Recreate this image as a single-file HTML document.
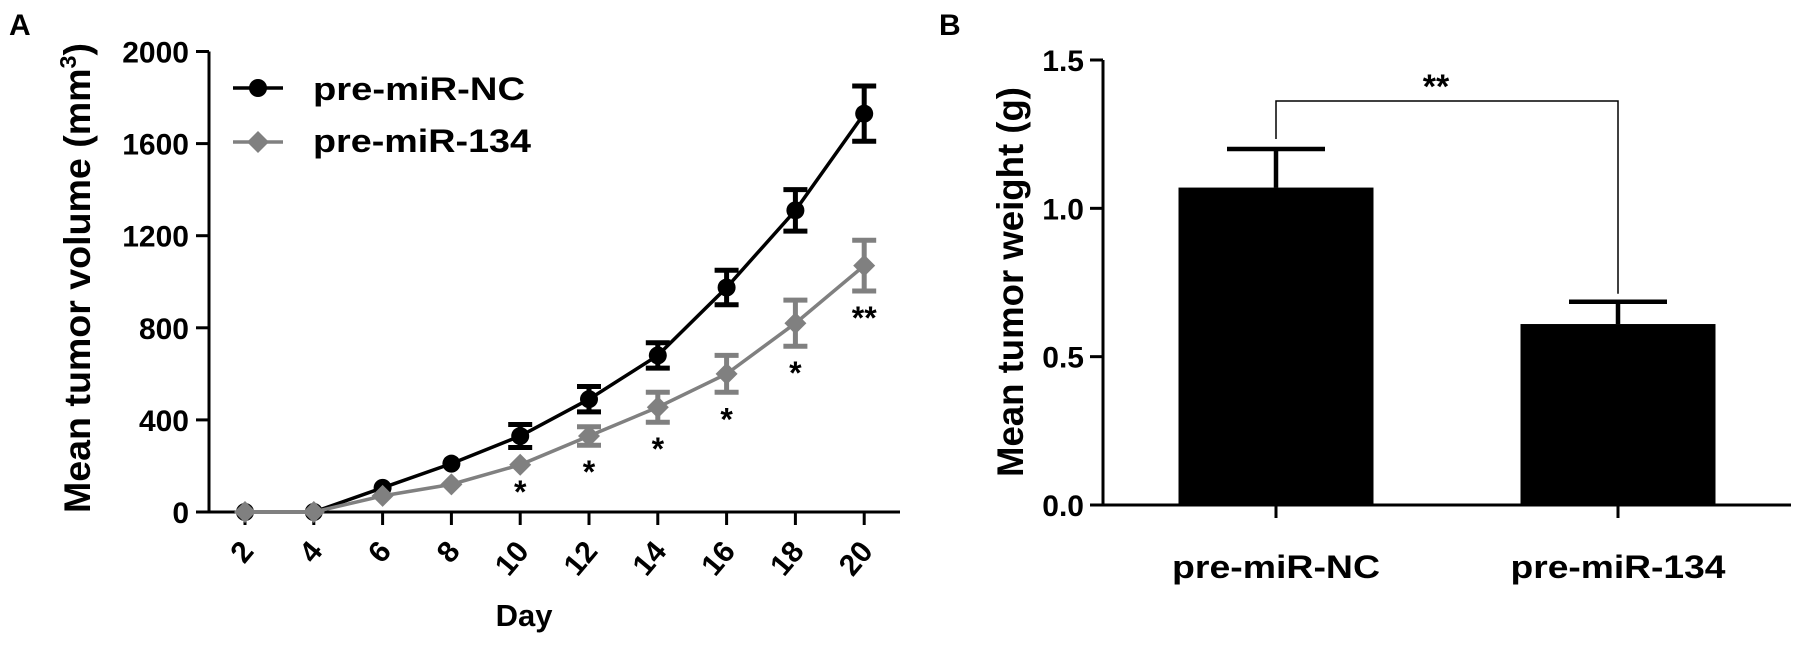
<!DOCTYPE html>
<html><head><meta charset="utf-8"><style>
body{margin:0;background:#fff}
svg{display:block;font-family:"Liberation Sans",Arial,sans-serif;font-weight:bold}
</style></head><body>
<svg id="s" width="1795" height="659" viewBox="0 0 1795 659">
<text x="9" y="35" font-size="30">A</text>
<text x="939" y="35" font-size="30">B</text>
<g id="A"></g>
<g id="B"></g>
</svg>
<script>
const days=[2,4,6,8,10,12,14,16,18,20];
const ncMean=[0,0,105,210,330,490,680,975,1310,1730];
const ncErr=[0,0,0,0,50,55,55,75,90,120];
const m134Mean=[0,0,70,120,205,330,455,600,820,1070];
const m134Err=[0,0,0,0,0,40,65,80,100,110];
const sigA=["","","","","*","*","*","*","*","**"];
const yTicksA=[0,400,800,1200,1600,2000];
const groups=["pre-miR-NC","pre-miR-134"];
const weights=[1.07,0.61];
const weightErr=[0.13,0.075];
const yTicksB=[0.0,0.5,1.0,1.5];
const NS="http://www.w3.org/2000/svg";
function mk(p,t,a){const e=document.createElementNS(NS,t);for(const k in a)e.setAttribute(k,a[k]);p.appendChild(e);return e;}
const A=document.getElementById('A'),B=document.getElementById('B');
// Panel A
const xA=d=>245+(d-2)/2*68.8, yA=v=>512-v/2000*460.5;
let e=mk(A,'path',{d:`M209,${yA(2000)}V512H900`,stroke:'#000','stroke-width':3,fill:'none'});

yTicksA.forEach(t=>{mk(A,'line',{x1:196,x2:209,y1:yA(t),y2:yA(t),stroke:'#000','stroke-width':3});
 e=mk(A,'text',{x:189,y:yA(t)+11,'font-size':30,'text-anchor':'end'});e.textContent=t;
 });
days.forEach(d=>{mk(A,'line',{x1:xA(d),x2:xA(d),y1:512,y2:525,stroke:'#000','stroke-width':3});
 e=mk(A,'text',{x:xA(d)+10,y:552,'font-size':30,'text-anchor':'end',transform:`rotate(-50 ${xA(d)+10} 552)`});e.textContent=d;
 });
e=mk(A,'text',{x:524,y:626,'font-size':31,'text-anchor':'middle'});e.textContent='Day';

e=mk(A,'text',{x:0,y:0,'font-size':37,'text-anchor':'middle',textLength:470,lengthAdjust:'spacingAndGlyphs',transform:'translate(90,278) rotate(-90)'});
e.innerHTML='Mean tumor volume (mm<tspan font-size="23" dy="-14">3</tspan><tspan dy="14">)</tspan>';

function series(mean,err,col,shape,name){
 const g=mk(A,'g',{});
 mk(g,'polyline',{points:days.map((d,i)=>xA(d)+','+yA(mean[i])).join(' '),stroke:col,'stroke-width':3.5,fill:'none'});
 days.forEach((d,i)=>{const x=xA(d),y=yA(mean[i]);
  if(err[i]>0){const y1=yA(mean[i]+err[i]),y2=yA(mean[i]-err[i]);
   mk(g,'path',{d:`M${x},${y1}V${y2}M${x-12},${y1}H${x+12}M${x-12},${y2}H${x+12}`,stroke:col,'stroke-width':5,fill:'none'});}
  if(shape==='c')mk(g,'circle',{cx:x,cy:y,r:9,fill:col});
  else mk(g,'path',{d:`M${x},${y-11}L${x+11},${y}L${x},${y+11}L${x-11},${y}Z`,fill:col});});
}
series(ncMean,ncErr,'#000','c','series-pre-mir-nc');
series(m134Mean,m134Err,'#808080','d','series-pre-mir-134');
days.forEach((d,i)=>{if(sigA[i]){e=mk(A,'text',{x:xA(d),y:yA(m134Mean[i]-m134Err[i])+38,'font-size':32,'text-anchor':'middle'});e.textContent=sigA[i];
 }});
// legend
const lg=mk(A,'g',{});
mk(lg,'line',{x1:233,x2:283,y1:88,y2:88,stroke:'#000','stroke-width':3.5});mk(lg,'circle',{cx:258,cy:88,r:9,fill:'#000'});
e=mk(lg,'text',{x:313,y:100,'font-size':32,textLength:212,lengthAdjust:'spacingAndGlyphs'});e.textContent='pre-miR-NC';
mk(lg,'line',{x1:233,x2:283,y1:142,y2:142,stroke:'#808080','stroke-width':3.5});mk(lg,'path',{d:'M258,131L269,142L258,153L247,142Z',fill:'#808080'});
e=mk(lg,'text',{x:313,y:152,'font-size':32,textLength:218,lengthAdjust:'spacingAndGlyphs'});e.textContent='pre-miR-134';
// Panel B
const yB=v=>505-v/1.5*445, cx=[1276,1618], bw=195;
e=mk(B,'path',{d:`M1103,${yB(1.5)}V505H1791`,stroke:'#000','stroke-width':3,fill:'none'});

yTicksB.forEach(t=>{mk(B,'line',{x1:1090,x2:1103,y1:yB(t),y2:yB(t),stroke:'#000','stroke-width':3});
 e=mk(B,'text',{x:1084,y:yB(t)+11,'font-size':30,'text-anchor':'end'});e.textContent=t.toFixed(1);
 });
e=mk(B,'text',{x:0,y:0,'font-size':37,'text-anchor':'middle',textLength:390,lengthAdjust:'spacingAndGlyphs',transform:'translate(1023,282) rotate(-90)'});e.textContent='Mean tumor weight (g)';

const labW=[208,215];
groups.forEach((g,i)=>{const top=yB(weights[i]),et=yB(weights[i]+weightErr[i]);
 mk(B,'path',{d:`M${cx[i]},${top}V${et}M${cx[i]-49},${et}H${cx[i]+49}`,stroke:'#000','stroke-width':4.5,fill:'none'});
 e=mk(B,'rect',{x:cx[i]-bw/2,y:top,width:bw,height:505-top,fill:'#000'});
 
 mk(B,'line',{x1:cx[i],x2:cx[i],y1:505,y2:518,stroke:'#000','stroke-width':3});
 e=mk(B,'text',{x:cx[i],y:578,'font-size':32,'text-anchor':'middle',textLength:labW[i],lengthAdjust:'spacingAndGlyphs'});e.textContent=g;
 });
const by=101;
e=mk(B,'path',{d:`M${cx[0]},${yB(weights[0]+weightErr[0])-10}V${by}H${cx[1]}V${yB(weights[1]+weightErr[1])-8}`,stroke:'#000','stroke-width':1.5,fill:'none'});

e=mk(B,'text',{x:1436,y:98,'font-size':34,'text-anchor':'middle'});e.textContent='**';

</script>
</body></html>
